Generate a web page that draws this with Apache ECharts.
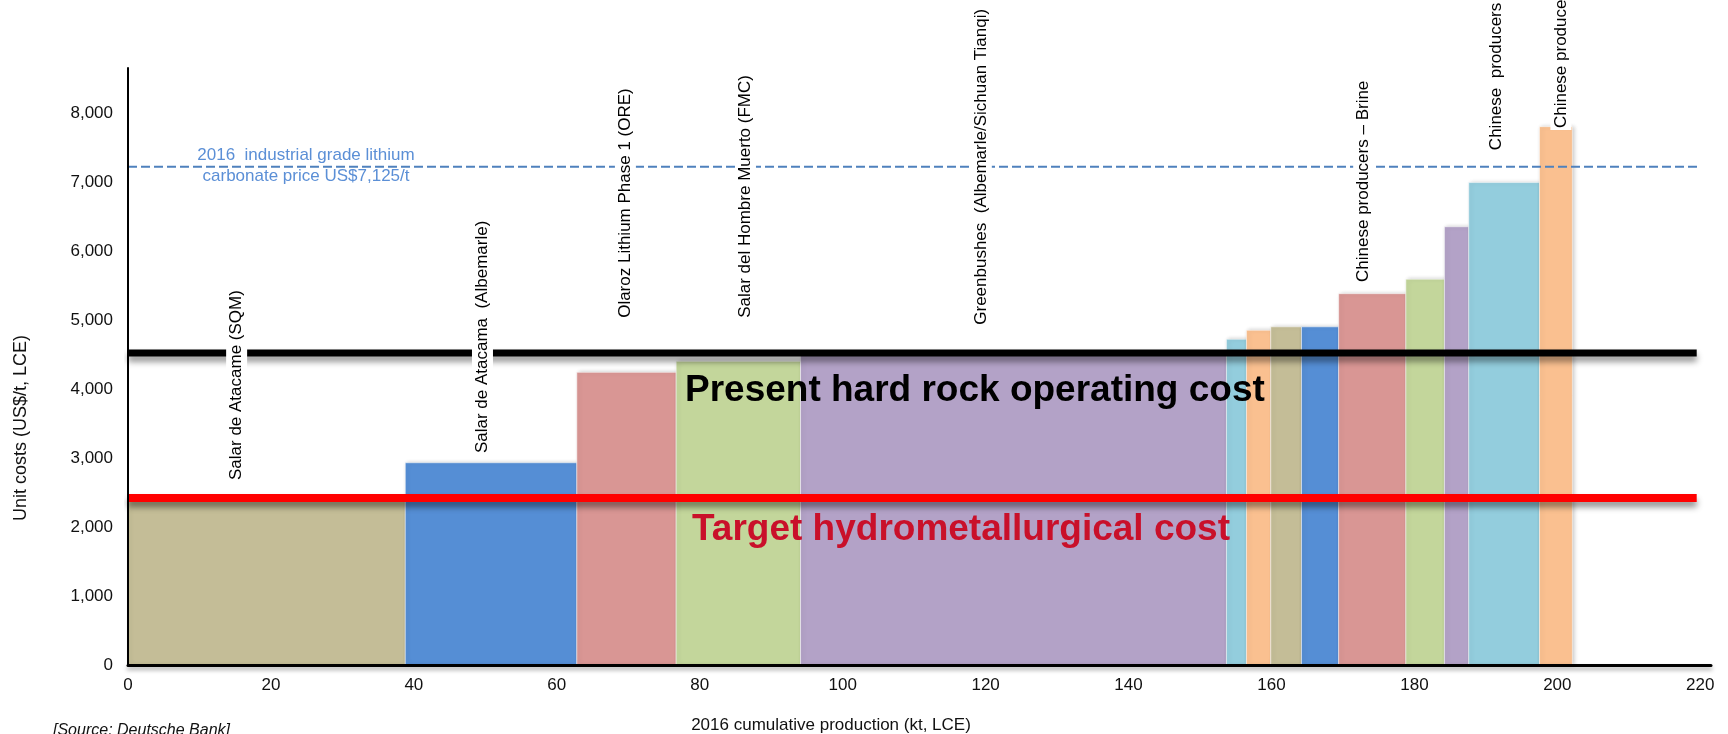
<!DOCTYPE html>
<html>
<head>
<meta charset="utf-8">
<script src="https://cdn.jsdelivr.net/npm/echarts@6/dist/echarts.min.js"></script>
<style>
html,body{margin:0;padding:0;background:#fff;}
#chart{width:1728px;height:734px;}
</style>
</head>
<body>
<div id="chart"></div>
<script>
// ---- Data (cost curve segments: cumulative production kt LCE, unit cost US$/t) ----
const segStart = [0, 38.8, 62.8, 76.7, 94.1, 153.7, 156.5, 159.9, 164.2, 169.4, 178.8, 184.2, 187.6, 197.5];
const segEnd   = [38.8, 62.8, 76.7, 94.1, 153.7, 156.5, 159.9, 164.2, 169.4, 178.8, 184.2, 187.6, 197.5, 202.1];
const unitCost = [2400, 2930, 4240, 4400, 4500, 4720, 4850, 4900, 4900, 5380, 5590, 6350, 6990, 7800];

// producer labels and where they sit (kt, US$/t of label start)
const producerNames = ['Salar de Atacame (SQM)', 'Salar de Atacama  (Albemarle)', 'Olaroz Lithium Phase 1 (ORE)',
  'Salar del Hombre Muerto (FMC)', 'Greenbushes  (Albemarle/Sichuan Tianqi)', 'Chinese producers \u2013 Brine',
  'Chinese  producers', 'Chinese producers'];
const producerAtKt   = [15.2, 49.6, 69.6, 86.4, 119.4, 172.9, 191.5, 200.5];
const producerAtCost = [2680, 3070, 5030, 5030, 4930, 5550, 7460, 7780];

// reference levels
const priceLevel = 7220;      // 2016 industrial grade lithium carbonate price line
const hardRockCost = 4520;    // present hard rock operating cost
const hydroCost = 2420;       // target hydrometallurgical cost
const lineSpan = [0, 219.5];

// axis ticks
const xTicks = [0, 20, 40, 60, 80, 100, 120, 140, 160, 180, 200, 220];
const yTicks = [0, 1000, 2000, 3000, 4000, 5000, 6000, 7000, 8000];

// ---- Styles ----
const palette = ['#c4bd97', '#558ed5', '#d99694', '#c3d69b', '#b3a2c7', '#93cddd', '#fac090'];
const FONT = '"Liberation Sans", Arial, Helvetica, sans-serif';

const barData = segStart.map((s, i) => [s, segEnd[i], unitCost[i]]);
const labelData = producerNames.map((n, i) => [producerAtKt[i], producerAtCost[i], n]);

const chart = echarts.init(document.getElementById('chart'), null, {renderer: 'canvas'});

const option = {
  animation: false,
  backgroundColor: '#ffffff',
  grid: {left: 128, right: 17, top: 68, bottom: 69, containLabel: false},
  xAxis: {
    type: 'value', min: 0, max: 221.5, interval: 20, z: 10,
    axisLine: {show: true, onZero: false, lineStyle: {color: '#000', width: 3,
      shadowColor: 'rgba(0,0,0,0.35)', shadowBlur: 4, shadowOffsetY: 3}},
    axisTick: {show: false},
    splitLine: {show: false},
    axisLabel: {
      color: '#111', fontSize: 17, fontFamily: FONT, margin: 12,
      formatter: v => xTicks.indexOf(v) >= 0 ? String(v) : ''
    }
  },
  yAxis: {
    type: 'value', min: 0, max: 8650, interval: 1000, z: 10,
    axisLine: {show: true, lineStyle: {color: '#000', width: 2}},
    axisTick: {show: false},
    splitLine: {show: false},
    axisLabel: {
      color: '#111', fontSize: 17, fontFamily: FONT, margin: 15,
      formatter: v => yTicks.indexOf(v) >= 0 ? v.toLocaleString('en-US') : ''
    }
  },
  series: [
    {
      type: 'custom', name: 'cost curve', z: 2,
      data: barData,
      encode: {x: [0, 1], y: 2},
      renderItem: function (params, api) {
        const x0 = api.value(0), x1 = api.value(1), y = api.value(2);
        const pTop = api.coord([x0, y]);
        const pBot = api.coord([x1, 0]);
        return {
          type: 'rect',
          shape: {x: pTop[0], y: pTop[1], width: pBot[0] - pTop[0], height: pBot[1] - pTop[1]},
          style: {
            fill: palette[params.dataIndex % palette.length],
            stroke: 'rgba(255,255,255,0.5)', lineWidth: 1,
            shadowColor: 'rgba(0,0,0,0.22)', shadowBlur: 4, shadowOffsetX: 2, shadowOffsetY: 0
          }
        };
      }
    },
    {
      type: 'line', name: 'price', z: 3, silent: true, symbol: 'none',
      data: [[lineSpan[0], priceLevel], [220, priceLevel]],
      lineStyle: {color: '#4f81bd', width: 2, type: [9, 4]}
    },
    {
      type: 'line', name: 'hard rock', z: 3, silent: true, symbol: 'none',
      data: [[lineSpan[0], hardRockCost], [lineSpan[1], hardRockCost]],
      lineStyle: {color: '#000', width: 7, shadowColor: 'rgba(0,0,0,0.45)', shadowBlur: 6, shadowOffsetY: 5}
    },
    {
      type: 'line', name: 'hydro', z: 3, silent: true, symbol: 'none',
      data: [[lineSpan[0], hydroCost], [lineSpan[1], hydroCost]],
      lineStyle: {color: '#ff0000', width: 8, shadowColor: 'rgba(0,0,0,0.45)', shadowBlur: 6, shadowOffsetY: 5}
    },
    {
      type: 'custom', name: 'labels', z: 5, silent: true, clip: false,
      data: labelData,
      encode: {x: 0, y: 1},
      renderItem: function (params, api) {
        const p = api.coord([api.value(0), api.value(1)]);
        return {
          type: 'text',
          x: p[0], y: p[1] + 2,
          rotation: Math.PI / 2,
          style: {
            text: labelData[params.dataIndex][2],
            fill: '#000',
            font: '17px ' + FONT,
            align: 'left', verticalAlign: 'middle',
            backgroundColor: '#ffffff',
            padding: [2, 0, 2, 2]
          }
        };
      }
    }
  ],
  graphic: [
    {type: 'text', x: 306, y: 155, z: 50, silent: true,
      style: {text: '2016  industrial grade lithium', fill: '#5b8fd6', font: '17px ' + FONT, align: 'center', verticalAlign: 'middle'}},
    {type: 'text', x: 306, y: 176, z: 50, silent: true,
      style: {text: 'carbonate price US$7,125/t', fill: '#5b8fd6', font: '17px ' + FONT, align: 'center', verticalAlign: 'middle'}},
    {type: 'text', x: 685, y: 391, z: 50, silent: true,
      style: {text: 'Present hard rock operating cost', fill: '#000', font: 'bold 37px ' + FONT, align: 'left', verticalAlign: 'middle'}},
    {type: 'text', x: 692, y: 530, z: 50, silent: true,
      style: {text: 'Target hydrometallurgical cost', fill: '#c9102a', font: 'bold 37px ' + FONT, align: 'left', verticalAlign: 'middle'}},
    {type: 'text', x: 21, y: 428, z: 50, rotation: Math.PI / 2, silent: true,
      style: {text: 'Unit costs (US$/t, LCE)', fill: '#111', font: '18px ' + FONT, align: 'center', verticalAlign: 'middle'}},
    {type: 'text', x: 831, y: 725, z: 50, silent: true,
      style: {text: '2016 cumulative production (kt, LCE)', fill: '#111', font: '17px ' + FONT, align: 'center', verticalAlign: 'middle'}},
    {type: 'text', x: 53, y: 723, z: 50, silent: true,
      style: {text: '[Source: Deutsche Bank]', fill: '#111', font: 'italic 16px ' + FONT, align: 'left', verticalAlign: 'top'}}
  ]
};
chart.setOption(option);
</script>
</body>
</html>
